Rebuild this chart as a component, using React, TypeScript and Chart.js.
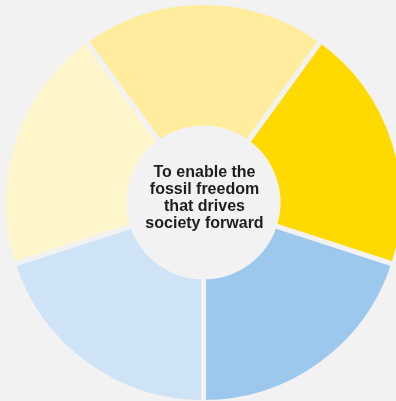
import React, { useEffect, useRef } from "react";
import { Chart, registerables } from "chart.js";

Chart.register(...registerables);

const categories = ["Segment 1", "Segment 2", "Segment 3", "Segment 4", "Segment 5"];
const values = [1, 1, 1, 1, 1];
const colors = ["#FFDA00", "#9DC8EE", "#CEE3F6", "#FFF6CC", "#FFEC9C"];
const centerLines = ["To enable the", "fossil freedom", "that drives", "society forward"];

const BG = "#F2F2F2";

const centerTextPlugin = {
  id: "centerText",
  afterDraw(chart: any) {
    const meta = chart.getDatasetMeta(0);
    const arc = meta.data[0];
    if (!arc) return;
    const { x, y } = arc;
    const ctx = chart.ctx;
    ctx.save();
    ctx.font = "bold 16px 'Liberation Sans', Arial, sans-serif";
    ctx.fillStyle = "#1E1E1E";
    ctx.textAlign = "center";
    ctx.textBaseline = "alphabetic";
    const lh = 17;
    centerLines.forEach((line, i) => {
      ctx.fillText(line, x + 1, y + (i - 1.5) * lh);
    });
    ctx.restore();
  },
};

export default function App() {
  const ref = useRef<HTMLCanvasElement | null>(null);
  useEffect(() => {
    if (!ref.current) return;
    const chart = new Chart(ref.current, {
      type: "doughnut",
      data: {
        labels: categories,
        datasets: [
          {
            data: values,
            backgroundColor: colors,
            borderColor: BG,
            borderWidth: 5,
            hoverBorderWidth: 5,
          },
        ],
      },
      options: {
        responsive: false,
        animation: false,
        rotation: 36,
        cutout: 74.5,
        layout: { padding: 0 },
        plugins: {
          legend: { display: false },
          tooltip: { enabled: false },
        },
        events: [],
      },
      plugins: [centerTextPlugin],
    });
    return () => chart.destroy();
  }, []);
  return (
    <div
      style={{
        position: "fixed",
        left: 0,
        top: 0,
        width: 396,
        height: 401,
        overflow: "hidden",
        background: BG,
      }}
    >
      <canvas
        ref={ref}
        width={405}
        height={405}
        style={{ position: "absolute", left: 1, top: 0, width: 405, height: 405 }}
      />
    </div>
  );
}
